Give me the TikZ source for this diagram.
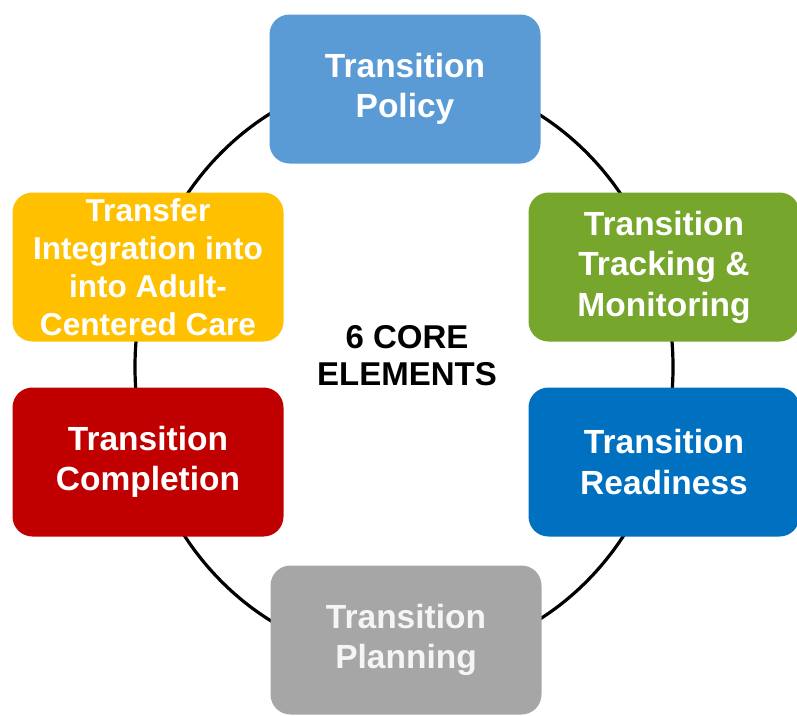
\documentclass[tikz,border=0pt]{standalone}
\usepackage{fontspec}
\setmainfont{Liberation Sans}
\definecolor{policyblue}{RGB}{91,155,213}
\definecolor{trackgreen}{RGB}{118,166,44}
\definecolor{readyblue}{RGB}{0,112,192}
\definecolor{planninggray}{RGB}{166,166,166}
\definecolor{complred}{RGB}{192,0,0}
\definecolor{transferyellow}{RGB}{255,192,0}
\tikzset{
  element/.style={rounded corners=20pt, minimum width=271pt, minimum height=149pt, inner sep=0pt,
    align=center, text=white, font=\bfseries\fontsize{33.5}{40.5}\selectfont},
}

\begin{document}
\begin{tikzpicture}[x=1pt,y=-1pt]
\useasboundingbox (0,0) rectangle (797,715);

%Shape: Ring behind the elements
\coordinate (hub) at (404,367);
\draw [line width=3.2pt] (hub) ellipse [x radius=269, y radius=292];

% Element boxes
\node [element, fill=policyblue] (policy) at (405,89) {Transition\\Policy};
\node [element, fill=trackgreen] (tracking) at (664,267) {Transition\\Tracking \&\\Monitoring};
\node [element, fill=readyblue] (readiness) at (664,462) {Transition\\Readiness};
\node [element, fill=planninggray, text={rgb,255:red,245;green,245;blue,245}] (planning) at (406,640) {Transition\\Planning};
\node [element, fill=complred] (completion) at (148,462) {Transition\\Completion};
\node [element, fill=transferyellow, font=\bfseries\fontsize{31.6}{38}\selectfont] (transfer) at (148,267) {Transfer\\Integration into\\into Adult-\\Centered Care};

% Text Node
\node [align=center, font=\bfseries\fontsize{33}{37}\selectfont] (core) at (407,356) {6 CORE\\ELEMENTS};

\end{tikzpicture}
\end{document}
